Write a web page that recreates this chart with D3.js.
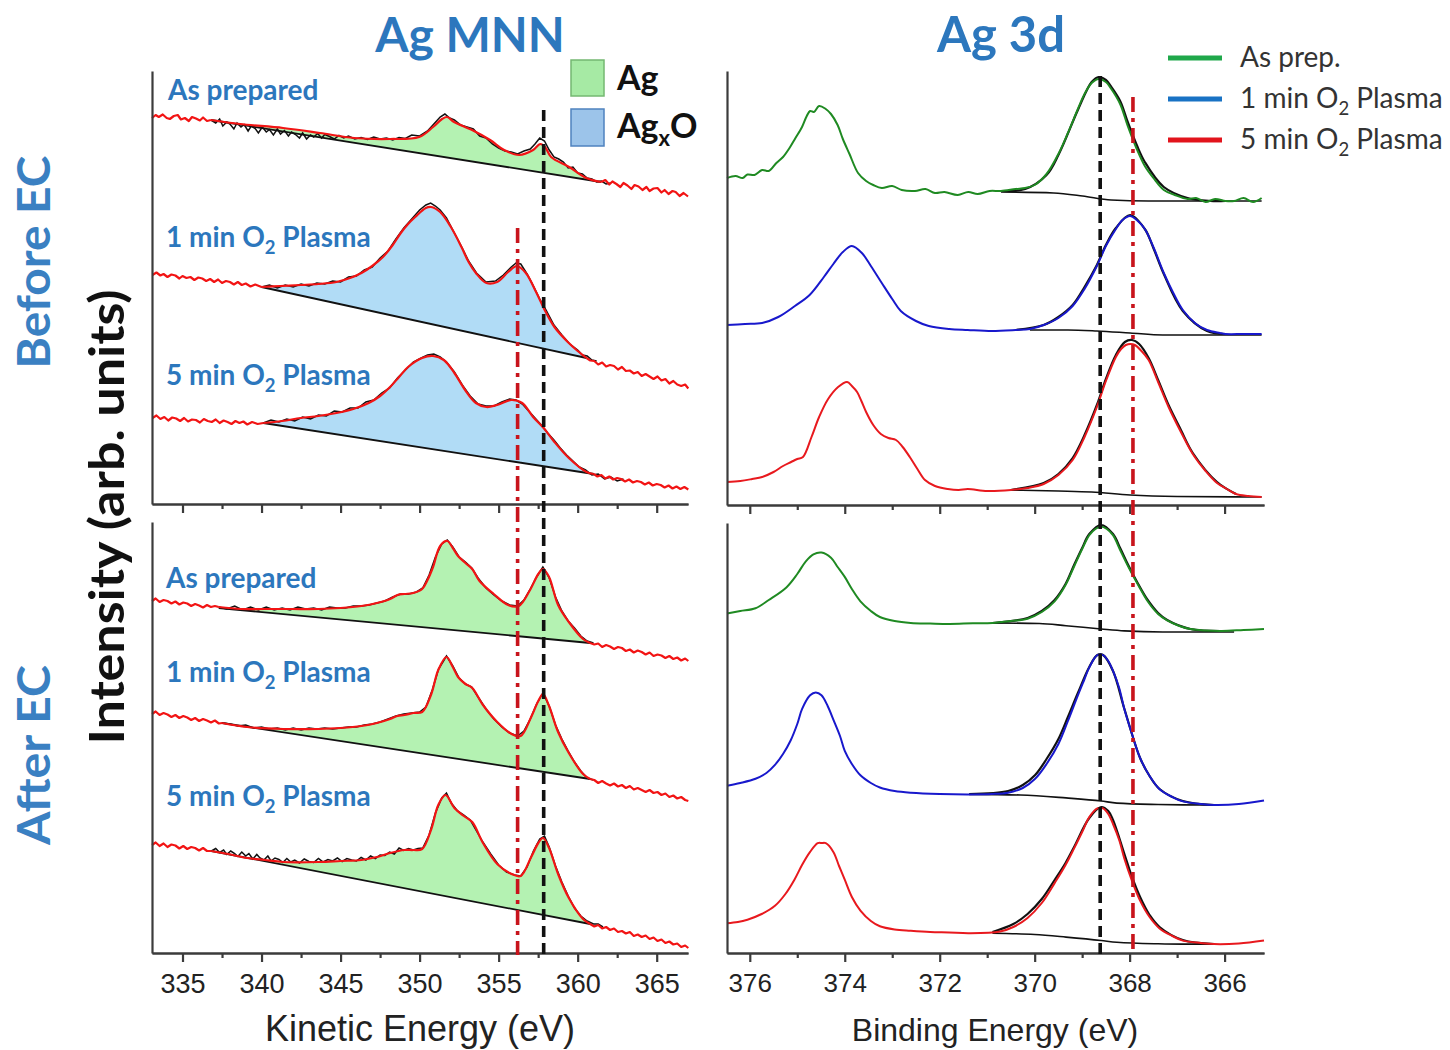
<!DOCTYPE html>
<html>
<head>
<meta charset="utf-8">
<script src="https://cdn.jsdelivr.net/npm/d3@7"></script>
<style>
  body { margin: 0; background: #fff; }
</style>
</head>
<body>
<svg id="chart" width="1450" height="1050"></svg>
<script>
// ---- Ag MNN (kinetic energy, eV) : [energy, intensity] ----
const mnnBeforeAsPrepRed = [[333.07,38.6],[333.3,38.9],[333.5,38.7],[333.75,38.95],[334.0,38.6],[334.2,38.5],[334.45,38.8],[334.7,38.9],[334.9,38.45],[335.15,38.6],[335.4,38.3],[335.6,38.7],[335.85,38.55],[336.1,38.35],[336.3,38.65],[336.55,38.3],[336.8,38.4],[338.64,38.0],[341.36,37.6],[343.7,37.1],[345.86,36.6],[348.13,36.5],[349.97,36.7],[350.85,37.7],[351.42,38.5],[351.74,38.7],[352.18,38.2],[353.32,37.4],[354.46,36.4],[355.35,35.4],[356.3,34.9],[357.18,35.4],[357.63,36.0],[357.94,35.7],[358.32,34.7],[359.46,33.7],[360.54,32.6],[361.49,32.2],[361.75,32.4],[362.0,31.95],[362.2,32.25],[362.45,32.0],[362.7,31.7],[362.9,32.1],[363.15,31.85],[363.4,31.5],[363.6,31.9],[363.85,31.75],[364.1,31.4],[364.35,31.7],[364.55,31.3],[364.8,31.55],[365.05,31.6],[365.3,31.15],[365.5,31.4],[365.75,31.0],[366.0,31.3],[366.2,31.2],[366.45,30.8],[366.7,31.1],[366.98,30.75]];
const mnnBeforeAsPrepRaw = [[336.8,38.4],[337.1,38.1],[337.35,38.5],[337.55,37.8],[337.8,38.2],[338.0,38.0],[338.25,37.5],[338.45,38.1],[338.7,37.7],[338.9,37.95],[339.15,37.3],[339.35,37.8],[339.6,37.55],[339.8,37.1],[340.05,37.7],[340.3,37.2],[340.5,37.45],[340.75,36.9],[341.0,37.5],[341.2,37.0],[341.45,37.35],[341.7,36.8],[341.9,37.2],[342.15,36.95],[342.4,36.6],[342.6,37.1],[342.85,36.5],[343.1,36.9],[343.3,36.7],[343.55,37.05],[343.8,36.6],[344.0,36.95],[344.3,36.75],[344.6,36.5],[344.9,36.85],[345.2,36.6],[345.5,36.8],[345.9,36.5],[346.3,36.65],[346.7,36.45],[347.1,36.7],[347.5,36.5],[347.9,36.6],[348.3,36.4],[348.7,36.65],[349.1,36.55],[349.5,36.9],[350.0,36.8],[350.5,37.3],[350.9,38.0],[351.3,38.7],[351.6,39.0],[351.9,38.6],[352.2,38.4],[352.6,37.9],[353.0,37.7],[353.4,37.5],[353.8,36.8],[354.2,36.6],[354.6,36.0],[355.0,35.6],[355.4,35.3],[355.8,35.2],[356.2,35.0],[356.6,35.3],[357.0,35.5],[357.3,36.0],[357.6,36.6],[357.9,36.3],[358.2,35.4],[358.5,34.7],[358.8,34.5],[359.1,34.2],[359.4,33.6],[359.7,33.7],[360.0,33.1],[360.3,33.0],[360.6,32.6],[360.9,32.5],[361.2,32.2],[361.5,32.3],[361.8,32.0],[362.1,32.1]];
const mnnBeforeAsPrepBg = [[336.8,38.4],[361.49,32.2]];

const mnnBefore1minRed = [[333.1,22.9],[333.35,23.15],[333.6,22.85],[333.8,23.0],[334.05,22.7],[334.3,22.95],[334.55,22.85],[334.8,22.55],[335.0,22.8],[335.25,22.6],[335.5,22.7],[335.75,22.4],[336.0,22.65],[336.25,22.55],[336.5,22.3],[336.75,22.5],[337.0,22.2],[337.25,22.45],[337.5,22.1],[337.75,22.3],[338.0,22.2],[338.25,21.95],[338.5,22.2],[338.75,21.9],[339.0,22.05],[339.3,21.75],[339.6,21.95],[340.0,21.7],[341.2,21.8],[342.48,21.9],[343.6,22.0],[344.74,22.2],[345.6,22.6],[346.32,23.1],[347.0,23.8],[347.68,24.7],[348.3,25.9],[348.81,27.1],[349.27,28.0],[349.72,28.7],[350.39,29.6],[350.73,29.7],[351.3,29.2],[351.98,27.7],[352.65,25.7],[353.1,24.2],[353.56,23.1],[354.23,22.1],[354.9,22.2],[355.6,23.2],[356.16,23.8],[356.72,23.1],[357.4,21.1],[357.85,19.6],[358.53,17.7],[359.44,16.1],[360.0,15.3],[360.56,14.6],[360.8,14.35],[361.05,14.3],[361.3,13.95],[361.55,14.15],[361.8,13.75],[362.05,13.9],[362.3,13.8],[362.55,13.45],[362.8,13.7],[363.05,13.3],[363.3,13.35],[363.55,13.05],[363.8,13.2],[364.05,12.8],[364.3,13.0],[364.55,12.75],[364.8,12.5],[365.05,12.75],[365.3,12.35],[365.55,12.5],[365.8,12.05],[366.05,12.3],[366.3,11.95],[366.55,11.8],[366.8,11.95],[367.0,11.55]];
const mnnBefore1minRaw = [[340.0,21.7],[340.5,21.9],[341.0,21.6],[341.5,21.9],[342.0,21.7],[342.5,22.0],[343.0,21.8],[343.5,22.1],[344.0,22.0],[344.5,22.3],[345.0,22.2],[345.5,22.7],[346.0,22.8],[346.5,23.4],[347.0,23.7],[347.5,24.6],[348.0,25.3],[348.5,26.5],[349.0,27.6],[349.5,28.5],[350.0,29.4],[350.4,29.9],[350.7,30.1],[351.0,29.8],[351.3,29.4],[351.7,28.6],[352.1,27.4],[352.6,25.9],[353.1,24.3],[353.6,23.1],[354.2,22.2],[354.8,22.3],[355.3,22.9],[355.8,23.7],[356.1,24.1],[356.4,24.0],[356.8,23.0],[357.2,21.8],[357.6,20.5],[358.0,19.4],[358.5,17.9],[359.0,16.9],[359.5,16.0],[360.0,15.4],[360.3,14.9],[360.6,14.8],[360.9,14.4],[361.2,14.3]];
const mnnBefore1minBg = [[340.0,21.7],[360.56,14.6]];

const mnnBefore5minRed = [[333.1,8.6],[333.35,8.85],[333.6,8.5],[333.85,8.7],[334.1,8.35],[334.35,8.65],[334.6,8.55],[334.85,8.3],[335.1,8.6],[335.35,8.25],[335.6,8.45],[335.85,8.4],[336.1,8.15],[336.35,8.5],[336.6,8.3],[336.85,8.2],[337.1,8.45],[337.35,8.1],[337.6,8.35],[337.85,8.2],[338.1,8.0],[338.35,8.3],[338.6,8.1],[338.85,8.25],[339.1,7.95],[339.4,8.2],[339.75,8.0],[340.11,8.1],[341.3,8.3],[342.48,8.6],[343.6,8.8],[344.74,9.1],[345.8,9.5],[346.78,10.1],[347.5,10.8],[348.13,11.7],[348.7,12.7],[349.27,13.7],[350.16,14.6],[350.85,14.8],[351.53,14.4],[352.2,13.1],[352.88,11.4],[353.56,10.1],[354.23,9.7],[354.9,9.9],[355.82,10.4],[356.49,10.1],[357.18,8.7],[357.85,7.6],[358.53,6.2],[359.44,4.6],[360.56,3.2],[361.02,3.0],[361.25,2.75],[361.5,2.9],[361.75,2.55],[362.0,2.75],[362.25,2.45],[362.5,2.6],[362.75,2.5],[363.0,2.25],[363.25,2.45],[363.5,2.15],[363.75,2.3],[364.0,2.2],[364.25,1.95],[364.5,2.15],[364.75,1.85],[365.0,2.0],[365.25,1.9],[365.5,1.65],[365.75,1.85],[366.0,1.55],[366.25,1.75],[366.5,1.5],[366.75,1.7],[367.0,1.45]];
const mnnBefore5minRaw = [[340.11,8.1],[340.6,8.4],[341.1,8.2],[341.6,8.5],[342.1,8.3],[342.6,8.7],[343.1,8.5],[343.6,8.9],[344.1,8.8],[344.6,9.3],[345.1,9.2],[345.6,9.6],[346.1,9.6],[346.6,10.2],[347.1,10.4],[347.6,11.1],[348.1,11.6],[348.6,12.6],[349.1,13.4],[349.6,14.2],[350.1,14.6],[350.5,14.9],[350.9,15.0],[351.3,14.7],[351.7,14.2],[352.2,13.2],[352.7,11.9],[353.2,10.8],[353.7,10.0],[354.2,9.8],[354.7,9.8],[355.2,10.2],[355.7,10.5],[356.1,10.4],[356.5,10.0],[356.9,9.3],[357.3,8.6],[357.7,7.9],[358.1,7.1],[358.5,6.4],[358.9,5.6],[359.3,4.9],[359.7,4.3],[360.1,3.7],[360.5,3.4],[360.9,2.9],[361.3,3.0],[361.7,2.5],[362.1,2.7],[362.5,2.3],[362.9,2.5]];
const mnnBefore5minBg = [[340.11,8.1],[361.02,3.0]];

const mnnAfterAsPrepRed = [[333.07,35.2],[333.3,35.45],[333.55,35.1],[333.8,35.3],[334.05,35.2],[334.3,34.95],[334.55,35.15],[334.8,34.85],[335.05,35.05],[335.3,34.95],[335.55,34.7],[335.8,34.9],[336.05,34.75],[336.3,34.55],[336.55,34.8],[336.8,34.6],[337.05,34.7],[337.29,34.6],[338.7,34.4],[340.22,34.4],[341.9,34.4],[343.61,34.4],[345.0,34.5],[346.32,34.7],[347.3,35.0],[348.13,35.4],[348.6,35.8],[349.04,35.9],[349.6,36.0],[350.16,36.4],[350.5,37.3],[350.85,38.6],[351.3,40.7],[351.75,41.2],[352.1,40.5],[352.43,39.7],[352.9,39.0],[353.33,38.4],[353.79,37.2],[354.69,35.9],[355.6,34.8],[356.27,34.7],[356.95,36.2],[357.51,37.9],[357.81,38.4],[358.19,37.6],[358.76,34.8],[359.44,33.1],[360.34,31.4],[360.79,31.0],[361.05,30.85],[361.3,30.95],[361.55,30.6],[361.8,30.8],[362.05,30.65],[362.3,30.4],[362.55,30.6],[362.8,30.5],[363.05,30.2],[363.3,30.35],[363.55,30.05],[363.8,30.25],[364.05,30.1],[364.3,29.85],[364.55,30.05],[364.8,29.7],[365.05,29.85],[365.3,29.75],[365.55,29.5],[365.8,29.7],[366.05,29.4],[366.3,29.55],[366.55,29.25],[366.8,29.45],[367.0,29.2]];
const mnnAfterAsPrepRaw = [[337.29,34.6],[337.8,34.4],[338.3,34.7],[338.8,34.3],[339.3,34.6],[339.8,34.3],[340.3,34.6],[340.8,34.3],[341.3,34.5],[341.8,34.3],[342.3,34.6],[342.8,34.4],[343.3,34.5],[343.8,34.3],[344.3,34.6],[344.8,34.5],[345.3,34.5],[345.8,34.7],[346.3,34.7],[346.8,34.8],[347.3,35.0],[347.8,35.2],[348.3,35.6],[348.8,35.9],[349.3,35.9],[349.8,36.1],[350.2,36.5],[350.6,37.8],[351.0,39.6],[351.4,40.9],[351.75,41.3],[352.1,40.6],[352.5,39.6],[352.9,39.1],[353.3,38.5],[353.7,37.5],[354.2,36.5],[354.7,35.8],[355.2,35.2],[355.7,34.8],[356.2,34.7],[356.6,35.3],[357.0,36.4],[357.4,37.6],[357.8,38.6],[358.2,37.5],[358.6,35.6],[359.0,34.2],[359.4,33.2],[359.8,32.5],[360.2,31.7],[360.6,31.2],[361.0,31.0]];
const mnnAfterAsPrepBg = [[337.29,34.5],[360.79,31.0]];

const mnnAfter1minRed = [[333.07,23.9],[333.3,24.15],[333.55,23.8],[333.8,24.0],[334.05,23.85],[334.3,23.6],[334.55,23.8],[334.8,23.5],[335.05,23.7],[335.3,23.55],[335.55,23.3],[335.8,23.5],[336.05,23.2],[336.3,23.4],[336.55,23.25],[336.8,23.05],[337.05,23.25],[337.3,22.95],[337.51,23.0],[339.09,22.6],[341.36,22.4],[343.61,22.4],[345.0,22.5],[346.32,22.7],[347.3,23.0],[348.13,23.4],[348.6,23.7],[349.04,23.8],[349.6,24.0],[350.16,24.1],[350.74,25.9],[351.18,28.3],[351.7,29.6],[352.1,28.6],[352.43,27.6],[352.9,26.9],[353.33,26.5],[354.01,24.8],[354.91,23.1],[355.82,21.9],[356.39,21.7],[357.06,23.6],[357.51,25.2],[357.81,25.9],[358.19,24.7],[358.76,22.1],[359.44,20.0],[360.34,17.9],[360.79,17.4],[361.05,17.3],[361.3,17.0],[361.55,17.2],[361.8,16.95],[362.05,16.75],[362.3,16.95],[362.55,16.65],[362.8,16.8],[363.05,16.5],[363.3,16.7],[363.55,16.35],[363.8,16.5],[364.05,16.3],[364.3,16.1],[364.55,16.3],[364.8,16.0],[365.05,16.1],[365.3,15.8],[365.55,15.95],[365.8,15.6],[366.05,15.75],[366.3,15.45],[366.55,15.6],[366.8,15.3],[367.0,15.2]];
const mnnAfter1minRaw = [[337.51,23.0],[338.0,22.9],[338.5,22.7],[339.0,22.8],[339.5,22.5],[340.0,22.6],[340.5,22.4],[341.0,22.5],[341.5,22.3],[342.0,22.5],[342.5,22.3],[343.0,22.5],[343.5,22.4],[344.0,22.5],[344.5,22.4],[345.0,22.5],[345.5,22.6],[346.0,22.6],[346.5,22.8],[347.0,22.9],[347.5,23.1],[348.0,23.4],[348.5,23.7],[349.0,23.9],[349.5,24.0],[350.0,24.1],[350.4,24.6],[350.8,26.3],[351.2,28.4],[351.7,29.7],[352.1,28.7],[352.5,27.5],[352.9,26.9],[353.3,26.6],[353.7,25.6],[354.2,24.4],[354.7,23.4],[355.2,22.6],[355.7,22.0],[356.2,21.7],[356.6,22.2],[357.0,23.4],[357.4,24.9],[357.8,26.0],[358.2,24.7],[358.6,22.8],[359.0,21.4],[359.4,20.2],[359.8,19.1],[360.2,18.2],[360.6,17.5],[361.0,17.3]];
const mnnAfter1minBg = [[337.51,23.0],[360.79,17.4]];

const mnnAfter5minRed = [[333.07,10.8],[333.3,11.05],[333.55,10.7],[333.8,10.95],[334.05,10.6],[334.3,10.85],[334.55,10.75],[334.8,10.45],[335.05,10.7],[335.3,10.4],[335.55,10.6],[335.8,10.5],[336.05,10.25],[336.3,10.5],[336.55,10.2],[336.83,10.2],[337.9,9.9],[339.09,9.5],[340.2,9.3],[341.36,9.1],[343.61,9.1],[345.0,9.2],[346.32,9.3],[347.3,9.6],[348.13,10.0],[349.04,10.3],[349.6,10.3],[350.16,10.4],[350.74,12.4],[351.18,14.8],[351.64,15.8],[352.2,14.5],[352.8,13.7],[353.33,13.1],[354.01,11.0],[354.91,8.9],[355.82,7.9],[356.39,7.7],[357.06,9.6],[357.51,11.0],[357.81,11.5],[358.19,10.5],[358.76,7.9],[359.44,5.5],[360.34,3.4],[360.79,2.9],[361.05,2.65],[361.3,2.8],[361.55,2.45],[361.8,2.6],[362.05,2.3],[362.3,2.45],[362.55,2.1],[362.8,2.2],[363.05,1.95],[363.3,2.1],[363.55,1.7],[363.8,1.85],[364.05,1.6],[364.3,1.75],[364.55,1.4],[364.8,1.55],[365.05,1.2],[365.3,1.35],[365.55,1.0],[365.8,1.15],[366.05,0.85],[366.3,0.95],[366.55,0.6],[366.8,0.75],[367.0,0.5]];
const mnnAfter5minRaw = [[336.83,10.2],[337.1,10.45],[337.35,10.05],[337.6,10.3],[337.8,9.85],[338.05,10.2],[338.3,9.95],[338.5,9.65],[338.75,10.1],[339.0,9.7],[339.2,9.95],[339.45,9.4],[339.7,9.85],[339.9,9.5],[340.15,9.3],[340.4,9.7],[340.6,9.2],[340.85,9.5],[341.1,9.35],[341.35,9.05],[341.6,9.45],[341.85,9.1],[342.1,9.3],[342.4,9.0],[342.7,9.4],[343.0,9.15],[343.3,9.05],[343.6,9.45],[343.9,9.1],[344.2,9.35],[344.5,9.2],[344.8,9.5],[345.1,9.15],[345.4,9.45],[345.7,9.3],[346.0,9.2],[346.3,9.55],[346.6,9.3],[346.9,9.7],[347.2,9.45],[347.5,9.8],[347.8,9.75],[348.1,10.1],[348.4,9.9],[348.7,10.5],[349.0,10.25],[349.3,10.45],[349.6,10.3],[349.9,10.45],[350.2,10.5],[350.6,11.8],[351.0,14.0],[351.4,15.5],[351.7,16.0],[352.0,15.0],[352.4,14.2],[352.8,13.8],[353.2,13.3],[353.6,12.2],[354.0,11.1],[354.5,9.9],[355.0,8.8],[355.5,8.1],[356.0,7.8],[356.4,7.7],[356.8,8.6],[357.2,10.2],[357.6,11.4],[357.9,11.7],[358.2,10.6],[358.6,8.7],[359.0,7.1],[359.4,5.7],[359.8,4.5],[360.2,3.7],[360.6,3.2],[361.0,2.9],[361.3,2.9],[361.6,2.6]];
const mnnAfter5minBg = [[336.83,10.2],[360.79,2.9]];

// ---- Ag 3d (binding energy, eV) : [energy, intensity] ----
const ag3dBeforeAsPrep = [[376.48,32.7],[376.3,32.9],[376.15,32.7],[376.05,33.05],[375.9,33.0],[375.74,33.5],[375.6,33.4],[375.44,34.2],[375.3,34.8],[375.15,35.8],[375.05,36.6],[374.9,37.8],[374.8,38.9],[374.73,39.4],[374.65,39.3],[374.54,39.9],[374.4,39.6],[374.29,39.1],[374.15,38.0],[374.04,36.6],[373.9,35.1],[373.72,33.2],[373.55,32.4],[373.4,32.0],[373.22,31.7],[373.0,31.9],[372.8,31.5],[372.52,31.4],[372.3,31.6],[372.1,31.2],[371.9,31.3],[371.62,31.0],[371.4,31.3],[371.2,31.1],[370.95,31.4],[370.71,31.4],[370.4,31.6],[370.2,31.7],[370.0,32.0],[369.75,33.1],[369.49,35.2],[369.3,37.2],[369.09,39.6],[368.95,41.1],[368.8,42.2],[368.65,42.6],[368.5,42.3],[368.4,41.7],[368.2,40.1],[368.04,37.9],[367.85,35.6],[367.68,33.9],[367.5,32.7],[367.28,31.5],[367.05,31.0],[366.78,30.6],[366.6,30.7],[366.4,30.3],[366.2,30.6],[365.98,30.4],[365.8,30.4],[365.6,30.7],[365.4,30.3],[365.22,30.7]];
const ag3dBeforeAsPrepFit = [[370.71,31.4],[370.2,31.6],[369.75,33.0],[369.49,35.1],[369.09,39.5],[368.8,42.3],[368.65,42.8],[368.5,42.5],[368.4,41.9],[368.2,40.4],[368.04,38.3],[367.85,36.0],[367.68,34.3],[367.28,31.8],[366.78,30.7],[366.3,30.4],[365.98,30.4]];
const ag3dBeforeAsPrepBg = [[370.71,31.3],[369.6,31.2],[368.99,30.9],[368.39,30.5],[367.6,30.4],[366.78,30.4],[365.22,30.4]];

const ag3dBefore1min = [[376.48,18.0],[376.1,18.1],[375.74,18.2],[375.4,18.8],[375.05,19.9],[374.74,21.0],[374.44,22.8],[374.24,24.1],[374.04,25.3],[373.85,25.9],[373.64,25.2],[373.45,23.9],[373.22,22.2],[373.0,20.6],[372.82,19.4],[372.5,18.4],[372.23,17.9],[371.8,17.6],[371.41,17.5],[370.9,17.4],[370.4,17.5],[370.1,17.6],[369.81,18.0],[369.5,18.7],[369.2,19.9],[368.95,21.6],[368.69,23.9],[368.5,25.9],[368.29,27.6],[368.15,28.5],[367.99,28.9],[367.85,28.5],[367.68,27.6],[367.5,25.8],[367.28,23.2],[367.08,21.2],[366.88,19.5],[366.6,18.1],[366.37,17.5],[366.1,17.2],[365.98,17.1],[365.6,17.1],[365.22,17.1]];
const ag3dBefore1minFit = [[370.4,17.5],[369.81,18.0],[369.5,18.8],[369.2,20.0],[368.95,21.8],[368.69,24.0],[368.5,26.0],[368.29,27.7],[367.99,29.0],[367.68,27.6],[367.5,25.7],[367.28,23.1],[366.88,19.4],[366.37,17.4],[365.98,17.1]];
const ag3dBefore1minBg = [[370.1,17.5],[369.3,17.5],[368.69,17.4],[367.99,17.2],[367.3,17.0],[366.5,17.0],[365.22,17.0]];

const ag3dBefore5min = [[376.48,2.3],[376.2,2.4],[375.95,2.6],[375.74,2.8],[375.5,3.3],[375.3,3.9],[375.13,4.3],[375.0,4.6],[374.88,4.8],[374.7,6.8],[374.54,8.8],[374.35,10.6],[374.14,11.8],[373.95,12.3],[373.85,11.9],[373.74,11.3],[373.65,10.4],[373.55,9.3],[373.4,8.0],[373.24,7.1],[373.08,6.7],[372.92,6.5],[372.78,5.8],[372.63,4.8],[372.47,3.6],[372.31,2.5],[372.1,1.9],[371.83,1.6],[371.6,1.5],[371.41,1.6],[371.0,1.4],[370.5,1.5],[370.15,1.7],[369.81,2.1],[369.5,3.0],[369.2,4.5],[368.95,6.8],[368.69,9.8],[368.5,12.4],[368.29,14.8],[368.18,15.6],[368.08,16.0],[367.98,16.1],[367.89,16.0],[367.75,15.4],[367.6,14.5],[367.4,12.3],[367.18,9.8],[366.92,7.3],[366.67,5.1],[366.4,3.4],[366.16,2.2],[365.95,1.6],[365.76,1.1],[365.5,0.9],[365.22,0.8]];
const ag3dBefore5minFit = [[370.5,1.5],[369.81,2.2],[369.5,3.1],[369.2,4.7],[368.95,7.0],[368.69,10.0],[368.5,12.6],[368.29,15.0],[368.1,16.3],[367.95,16.5],[367.8,16.1],[367.6,14.7],[367.4,12.5],[367.18,10.0],[366.92,7.5],[366.67,5.2],[366.16,2.3],[365.76,1.1]];
const ag3dBefore5minBg = [[370.5,1.5],[369.5,1.4],[368.8,1.3],[367.99,1.0],[367.0,0.85],[365.22,0.8]];

const ag3dAfterAsPrep = [[376.48,33.95],[376.2,34.2],[375.88,34.47],[375.6,35.3],[375.23,36.56],[375.0,37.9],[374.82,39.17],[374.66,39.87],[374.49,40.04],[374.29,39.52],[374.15,38.6],[374.0,37.61],[373.85,36.4],[373.67,35.17],[373.45,34.2],[373.26,33.6],[372.95,33.2],[372.61,33.01],[372.2,32.95],[371.79,32.91],[371.3,32.98],[370.89,33.01],[370.5,33.2],[370.15,33.43],[369.85,34.1],[369.58,35.17],[369.35,36.8],[369.17,38.65],[369.0,40.4],[368.85,41.78],[368.72,42.4],[368.6,42.65],[368.48,42.4],[368.35,41.78],[368.2,40.3],[368.03,38.65],[367.82,36.8],[367.62,35.17],[367.4,33.9],[367.21,33.26],[366.95,32.7],[366.72,32.39],[366.4,32.25],[366.06,32.21],[365.6,32.3],[365.17,32.39]];
const ag3dAfterAsPrepFit = [[370.89,33.0],[370.15,33.5],[369.85,34.2],[369.58,35.3],[369.35,36.9],[369.17,38.8],[369.0,40.5],[368.85,41.9],[368.6,42.8],[368.35,41.9],[368.2,40.5],[368.03,38.8],[367.82,36.9],[367.62,35.3],[367.4,34.0],[367.21,33.3],[366.72,32.4],[366.06,32.2]];
const ag3dAfterAsPrepBg = [[370.89,33.0],[369.9,32.95],[369.34,32.73],[368.6,32.4],[368.11,32.21],[367.3,32.1],[366.72,32.1],[365.8,32.1]];

const ag3dAfter1min = [[376.48,16.73],[376.2,17.0],[375.88,17.42],[375.65,18.0],[375.47,18.81],[375.3,19.9],[375.14,21.25],[375.0,22.9],[374.9,24.38],[374.73,25.77],[374.61,26.05],[374.49,25.77],[374.36,24.7],[374.24,23.34],[374.1,21.7],[374.0,20.21],[373.85,18.9],[373.67,17.77],[373.45,17.0],[373.26,16.55],[372.95,16.2],[372.61,16.03],[372.0,15.9],[371.38,15.86],[370.9,15.9],[370.56,16.03],[370.25,16.5],[369.99,17.42],[369.75,18.9],[369.5,20.9],[369.3,23.2],[369.09,25.77],[368.95,27.4],[368.85,28.56],[368.68,29.78],[368.56,29.78],[368.45,29.2],[368.35,28.21],[368.22,26.5],[368.11,24.38],[367.95,21.9],[367.78,19.51],[367.58,17.7],[367.37,16.38],[367.1,15.6],[366.88,15.16],[366.5,14.9],[366.22,14.81],[365.7,14.9],[365.17,15.26]];
const ag3dAfter1minFit = [[371.38,15.9],[370.56,16.2],[370.25,16.8],[369.99,17.8],[369.75,19.4],[369.5,21.4],[369.3,23.6],[369.09,26.0],[368.85,28.6],[368.68,29.8],[368.56,29.8],[368.35,28.2],[368.11,24.4],[367.78,19.5],[367.58,17.7],[367.37,16.4],[366.88,15.2],[366.22,14.8]];
const ag3dAfter1minBg = [[371.38,15.86],[370.3,15.8],[369.34,15.51],[368.6,15.2],[368.27,14.99],[367.4,14.85],[366.88,14.81],[366.3,14.8]];

const ag3dAfter5min = [[376.48,2.98],[376.25,3.1],[376.05,3.33],[375.75,3.9],[375.47,4.72],[375.25,5.9],[375.06,7.33],[374.9,8.8],[374.73,10.11],[374.57,10.98],[374.48,11.0],[374.4,10.98],[374.24,10.11],[374.12,8.7],[374.0,7.33],[373.85,5.6],[373.67,4.24],[373.45,3.2],[373.26,2.67],[372.95,2.35],[372.61,2.22],[372.2,2.1],[371.8,2.05],[371.38,1.98],[370.73,2.15],[370.45,2.6],[370.15,3.51],[369.85,5.0],[369.58,6.99],[369.35,8.8],[369.17,10.46],[369.0,12.1],[368.85,13.59],[368.68,14.46],[368.56,14.46],[368.45,13.9],[368.35,12.9],[368.22,11.3],[368.11,9.42],[367.95,7.2],[367.78,5.24],[367.58,3.6],[367.37,2.46],[367.1,1.7],[366.88,1.24],[366.5,1.0],[366.22,0.89],[365.7,0.95],[365.17,1.24]];
const ag3dAfter5minFit = [[370.89,2.1],[370.45,2.9],[370.15,3.9],[369.85,5.4],[369.58,7.3],[369.35,9.0],[369.17,10.6],[368.85,13.5],[368.6,14.6],[368.45,14.2],[368.35,13.3],[368.11,9.9],[367.95,7.6],[367.78,5.6],[367.58,3.8],[367.37,2.6],[366.88,1.3],[366.22,0.9]];
const ag3dAfter5minBg = [[370.89,1.98],[370.0,1.85],[369.34,1.59],[368.6,1.25],[368.27,1.07],[367.4,0.92],[366.88,0.89],[366.2,0.89]];

// reference positions (eV)
const mnnMetalE = 357.85, mnnOxideE = 356.2;
const ag3dMetalE = 368.62, ag3dOxideE = 367.93;

// ticks
const mnnMajor = [335, 340, 345, 350, 355, 360, 365];
const mnnMinor = [337.5, 342.5, 347.5, 352.5, 357.5, 362.5];
const ag3dMajor = [376, 374, 372, 370, 368, 366];
const ag3dMinor = [375, 373, 371, 369, 367];

const sampleNames = [["As prepared"], ["1 min O", "2", " Plasma"], ["5 min O", "2", " Plasma"]];
const legendNames = [["As prep."], ["1 min O", "2", " Plasma"], ["5 min O", "2", " Plasma"]];
const legendColors = ["#1fa84a", "#1872c4", "#e2141c"];

// ---------------------------------------------------------------
const svg = d3.select("#chart");
const blue = "#2c77bd";
const redLine = "#f21414";
const greenFill = "#b4f2b2";
const blueFill = "#b1dcf6";
const axisColor = "#3b3b3b";

const panels = {
  mnnTop: { left: 152, right: 688, top: 71, bottom: 504 },
  mnnBot: { left: 152, right: 688, top: 522, bottom: 953 },
  ag3dTop: { left: 727, right: 1264, top: 71, bottom: 505 },
  ag3dBot: { left: 727, right: 1264, top: 523, bottom: 953 },
};

const xMnn = d3.scaleLinear().domain([333.07, 366.98]).range([152, 688]);
const x3d = d3.scaleLinear().domain([376.48, 365.17]).range([727, 1264]);
const yFor = (p) => d3.scaleLinear().domain([0, (p.bottom - p.top) / 10]).range([p.bottom, p.top]);
const y = {};
Object.keys(panels).forEach((k) => (y[k] = yFor(panels[k])));

const lineGen = (x, yy, curve) =>
  d3.line().x((d) => x(d[0])).y((d) => yy(d[1])).curve(curve);

const gCurves = svg.append("g");

function drawMnn(key, red, raw, bg, fill) {
  const yy = y[key];
  const smooth = lineGen(xMnn, yy, d3.curveCatmullRom.alpha(0.5));
  const jagged = lineGen(xMnn, yy, d3.curveLinear);
  const e0 = bg[0][0], e1 = bg[1][0];
  const inside = red.filter((d) => d[0] > e0 && d[0] < e1);
  const leftTail = red.filter((d) => d[0] <= e0);
  const rightTail = red.filter((d) => d[0] >= e1);
  gCurves.append("path")
    .attr("d", smooth([bg[0], ...inside, bg[1]]) + "Z")
    .attr("fill", fill)
    .attr("stroke", "none");
  gCurves.append("path")
    .attr("d", jagged(bg))
    .attr("fill", "none").attr("stroke", "#111").attr("stroke-width", 1.8);
  gCurves.append("path")
    .attr("d", jagged(raw))
    .attr("fill", "none").attr("stroke", "#111").attr("stroke-width", 1.5);
  const redPaths = [
    jagged(leftTail),
    smooth(red.filter((d) => d[0] >= e0 && d[0] <= e1)),
    jagged(rightTail),
  ];
  redPaths.forEach((d) =>
    gCurves.append("path").attr("d", d)
      .attr("fill", "none").attr("stroke", redLine).attr("stroke-width", 2.2)
      .attr("stroke-linejoin", "round"));
}

function draw3d(key, data, fit, bg, color) {
  const yy = y[key];
  const smooth = lineGen(x3d, yy, d3.curveCatmullRom.alpha(0.5));
  gCurves.append("path")
    .attr("d", lineGen(x3d, yy, d3.curveMonotoneX)(bg))
    .attr("fill", "none").attr("stroke", "#111").attr("stroke-width", 1.6);
  gCurves.append("path")
    .attr("d", smooth(fit))
    .attr("fill", "none").attr("stroke", "#111").attr("stroke-width", 2.2);
  gCurves.append("path")
    .attr("d", smooth(data))
    .attr("fill", "none").attr("stroke", color).attr("stroke-width", 2);
}

drawMnn("mnnTop", mnnBeforeAsPrepRed, mnnBeforeAsPrepRaw, mnnBeforeAsPrepBg, greenFill);
drawMnn("mnnTop", mnnBefore1minRed, mnnBefore1minRaw, mnnBefore1minBg, blueFill);
drawMnn("mnnTop", mnnBefore5minRed, mnnBefore5minRaw, mnnBefore5minBg, blueFill);
drawMnn("mnnBot", mnnAfterAsPrepRed, mnnAfterAsPrepRaw, mnnAfterAsPrepBg, greenFill);
drawMnn("mnnBot", mnnAfter1minRed, mnnAfter1minRaw, mnnAfter1minBg, greenFill);
drawMnn("mnnBot", mnnAfter5minRed, mnnAfter5minRaw, mnnAfter5minBg, greenFill);

draw3d("ag3dTop", ag3dBeforeAsPrep, ag3dBeforeAsPrepFit, ag3dBeforeAsPrepBg, "#1f8a22");
draw3d("ag3dTop", ag3dBefore1min, ag3dBefore1minFit, ag3dBefore1minBg, "#1818cc");
draw3d("ag3dTop", ag3dBefore5min, ag3dBefore5minFit, ag3dBefore5minBg, "#e8191e");
draw3d("ag3dBot", ag3dAfterAsPrep, ag3dAfterAsPrepFit, ag3dAfterAsPrepBg, "#1f8a22");
draw3d("ag3dBot", ag3dAfter1min, ag3dAfter1minFit, ag3dAfter1minBg, "#1818cc");
draw3d("ag3dBot", ag3dAfter5min, ag3dAfter5minFit, ag3dAfter5minBg, "#e8191e");

// axes
function drawAxes(p, x, yy, major, minor, labels, fontSize) {
  const gb = svg.append("g").attr("transform", `translate(0,${p.bottom})`);
  gb.call(d3.axisBottom(x).tickValues(minor).tickSize(5).tickSizeOuter(0).tickFormat(""));
  const gm = svg.append("g").attr("transform", `translate(0,${p.bottom})`);
  gm.call(d3.axisBottom(x).tickValues(major).tickSize(9).tickSizeOuter(0).tickPadding(12)
    .tickFormat(labels ? d3.format("d") : ""));
  const gl = svg.append("g").attr("transform", `translate(${p.left},0)`);
  gl.call(d3.axisLeft(yy).tickValues([]).tickSizeOuter(0));
  [gb, gm, gl].forEach((g) => {
    g.selectAll(".domain").attr("stroke", axisColor).attr("stroke-width", 2.2);
    g.selectAll(".tick line").attr("stroke", axisColor).attr("stroke-width", 2.2);
    g.selectAll(".tick text")
      .attr("font-family", "'Liberation Sans', Arial, sans-serif")
      .attr("font-size", fontSize).attr("fill", "#222");
  });
}
drawAxes(panels.mnnTop, xMnn, y.mnnTop, mnnMajor, mnnMinor, false, 27);
drawAxes(panels.mnnBot, xMnn, y.mnnBot, mnnMajor, mnnMinor, true, 27);
drawAxes(panels.ag3dTop, x3d, y.ag3dTop, ag3dMajor, ag3dMinor, false, 26);
drawAxes(panels.ag3dBot, x3d, y.ag3dBot, ag3dMajor, ag3dMinor, true, 26);

// reference lines spanning both rows
const gRef = svg.append("g");
function refLine(x, e, topVal, topKey, color, dash) {
  gRef.append("line")
    .attr("x1", x(e)).attr("x2", x(e))
    .attr("y1", y[topKey](topVal)).attr("y2", panels.mnnBot.bottom + 2)
    .attr("stroke", color).attr("stroke-width", 3.6).attr("stroke-dasharray", dash);
}
refLine(xMnn, mnnOxideE, 27.6, "mnnTop", "#c8141c", "15,6,4,6");
refLine(xMnn, mnnMetalE, 39.4, "mnnTop", "#111", "11,6");
refLine(x3d, ag3dOxideE, 40.8, "ag3dTop", "#c8141c", "15,6,4,6");
refLine(x3d, ag3dMetalE, 42.9, "ag3dTop", "#111", "11,6");

// text helpers
const bodyFont = "Lato, 'Open Sans', sans-serif";
function subText(g, parts, x, yPos, size, fill, weight) {
  const t = g.append("text").attr("x", x).attr("y", yPos)
    .attr("font-family", bodyFont).attr("font-size", size)
    .attr("font-weight", weight).attr("fill", fill);
  t.append("tspan").text(parts[0]);
  if (parts.length > 1) {
    t.append("tspan").attr("font-size", size * 0.66).attr("dy", size * 0.24).text(parts[1]);
    t.append("tspan").attr("dy", -size * 0.24).text(parts[2]);
  }
  return t;
}

const gText = svg.append("g");
// sample labels
const beforeLabelY = [100, 247, 385];
const afterLabelY = [588, 682, 806];
sampleNames.forEach((s, i) => {
  subText(gText, s, i === 0 ? 168 : 166, beforeLabelY[i], 28, blue, 700);
  subText(gText, s, 166, afterLabelY[i], 28, blue, 700);
});

// titles
gText.append("text").attr("x", 470).attr("y", 52).attr("text-anchor", "middle")
  .attr("font-family", bodyFont).attr("font-weight", 700).attr("font-size", 48)
  .attr("fill", blue).text("Ag MNN");
gText.append("text").attr("x", 1001).attr("y", 52).attr("text-anchor", "middle")
  .attr("font-family", bodyFont).attr("font-weight", 700).attr("font-size", 49)
  .attr("fill", blue).text("Ag 3d");

// row labels
function vText(txt, cx, cy, size, fill, len) {
  gText.append("text")
    .attr("transform", `translate(${cx},${cy}) rotate(-90)`)
    .attr("text-anchor", "middle")
    .attr("font-family", bodyFont).attr("font-weight", 700).attr("font-size", size)
    .attr("fill", fill)
    .attr("textLength", len).attr("lengthAdjust", "spacingAndGlyphs")
    .text(txt);
}
vText("Before EC", 50, 262, 46, "#3a80c2", 213);
vText("After EC", 50, 755, 46, "#3a80c2", 180);
vText("Intensity (arb. units)", 124, 517, 48, "#111", 455);

// axis titles
gText.append("text").attr("x", 420).attr("y", 1041).attr("text-anchor", "middle")
  .attr("font-family", "'Liberation Sans', Arial, sans-serif").attr("font-size", 36)
  .attr("fill", "#222").text("Kinetic Energy (eV)");
gText.append("text").attr("x", 995).attr("y", 1041).attr("text-anchor", "middle")
  .attr("font-family", "'Liberation Sans', Arial, sans-serif").attr("font-size", 32)
  .attr("fill", "#222").text("Binding Energy (eV)");

// MNN legend
const gLeg = svg.append("g");
gLeg.append("rect").attr("x", 571).attr("y", 60).attr("width", 33).attr("height", 36)
  .attr("fill", "#a6eaa4").attr("stroke", "#74b872").attr("stroke-width", 1.5);
gLeg.append("rect").attr("x", 571).attr("y", 109).attr("width", 33).attr("height", 37)
  .attr("fill", "#9cc4ea").attr("stroke", "#4f82bf").attr("stroke-width", 1.5);
gLeg.append("text").attr("x", 617).attr("y", 90).attr("font-family", bodyFont)
  .attr("font-weight", 700).attr("font-size", 34).attr("fill", "#111").text("Ag");
const agxo = gLeg.append("text").attr("x", 617).attr("y", 138).attr("font-family", bodyFont)
  .attr("font-weight", 700).attr("font-size", 34).attr("fill", "#111");
agxo.append("tspan").text("Ag");
agxo.append("tspan").attr("font-size", 22).attr("dy", 8).text("x");
agxo.append("tspan").attr("dy", -8).text("O");

// 3d legend
legendNames.forEach((n, i) => {
  const yy = 58 + i * 41;
  gLeg.append("line").attr("x1", 1168).attr("x2", 1222).attr("y1", yy).attr("y2", yy)
    .attr("stroke", legendColors[i]).attr("stroke-width", 5);
  subText(gLeg, n, 1240, yy + 9, 28, "#333", 400);
});
</script>
</body>
</html>
